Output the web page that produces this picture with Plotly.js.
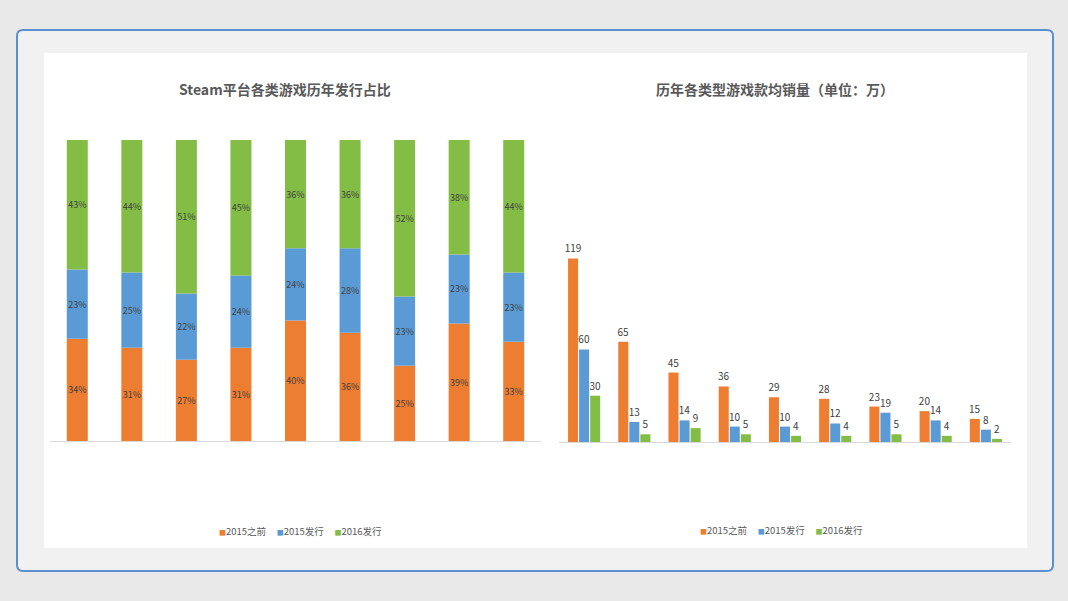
<!DOCTYPE html>
<html>
<head>
<meta charset="utf-8">
<script src="https://cdn.plot.ly/plotly-3.0.1.min.js"></script>
<style>
html,body{margin:0;padding:0;background:#e9e9e9;}
#chart{width:1068px;height:601px;}
</style>
</head>
<body>
<div id="chart"></div>
<script>
// ---- data ----
const categories = ['类型1','类型2','类型3','类型4','类型5','类型6','类型7','类型8','类型9'];
const seriesNames = ['2015之前','2015发行','2016发行'];

// left: share of releases (%)
const shareBefore2015 = [34, 31, 27, 31, 40, 36, 25, 39, 33];
const share2015 = [23, 25, 22, 24, 24, 28, 23, 23, 23];
const share2016 = [43, 44, 51, 45, 36, 36, 52, 38, 44];

// right: average sales per game (万)
const salesBefore2015 = [119, 65, 45, 36, 29, 28, 23, 20, 15];
const sales2015 = [60, 13, 14, 10, 10, 12, 19, 14, 8];
const sales2016 = [30, 5, 9, 5, 4, 4, 5, 4, 2];

const leftTitle = 'Steam平台各类游戏历年发行占比';
const rightTitle = '历年各类型游戏款均销量（单位：万）';

const colors = ['#ED7D31', '#5B9BD5', '#84BD46'];
const W = 1068, H = 601;
const px = x => x / W;
const py = y => 1 - y / H;
const font = '"Noto Sans CJK SC", "Microsoft YaHei", sans-serif';

const leftData = [shareBefore2015, share2015, share2016];
const rightData = [salesBefore2015, sales2015, sales2016];

const traces = [];
let base = categories.map(() => 0);
leftData.forEach((vals, i) => {
  traces.push({
    type: 'bar', x: categories, y: vals, base: base.slice(), name: seriesNames[i],
    xaxis: 'x', yaxis: 'y', showlegend: false,
    width: 0.385, offset: -0.1925,
    marker: {color: colors[i], line: {width: 0}},
    text: vals.map(v => v + '%'), textposition: 'inside', insidetextanchor: 'middle',
    textfont: {size: 9, color: '#404040', family: font},
    textangle: 0, constraintext: 'none',
    hoverinfo: 'skip'
  });
  base = base.map((b, k) => b + vals[k]);
});
const rightOffsets = [-0.32, -0.1, 0.12];
rightData.forEach((vals, i) => {
  traces.push({
    type: 'bar', x: categories, y: vals, name: seriesNames[i],
    xaxis: 'x2', yaxis: 'y2', showlegend: false,
    width: 0.2, offset: rightOffsets[i],
    marker: {color: colors[i], line: {width: 0}},
    text: vals.map(String), textposition: 'outside',
    textfont: {size: 10, color: '#404040', family: font},
    textangle: 0, constraintext: 'none',
    cliponaxis: false,
    hoverinfo: 'skip'
  });
});

function roundRect(x0, y0, x1, y1, r) {
  const X0 = px(x0), X1 = px(x1), Y0 = py(y0), Y1 = py(y1);
  const rx = r / W, ry = r / H;
  return `M ${X0 + rx} ${Y0} L ${X1 - rx} ${Y0} Q ${X1} ${Y0} ${X1} ${Y0 - ry} ` +
         `L ${X1} ${Y1 + ry} Q ${X1} ${Y1} ${X1 - rx} ${Y1} L ${X0 + rx} ${Y1} ` +
         `Q ${X0} ${Y1} ${X0} ${Y1 + ry} L ${X0} ${Y0 - ry} Q ${X0} ${Y0} ${X0 + rx} ${Y0} Z`;
}

function legendText() {
  return seriesNames.map((n, i) =>
    `<span style="color:${colors[i]};font-size:7px">■</span>${n}`).join('&nbsp;&nbsp;&nbsp;&nbsp;&nbsp;');
}

const layout = {
  width: W, height: H,
  margin: {l: 0, r: 0, t: 0, b: 0},
  paper_bgcolor: '#e9e9e9',
  plot_bgcolor: 'rgba(0,0,0,0)',
  showlegend: false,
  barmode: 'overlay',
  font: {family: font, color: '#595959'},
  shapes: [
    {type: 'path', xref: 'paper', yref: 'paper', path: roundRect(17, 30, 1053, 571, 6),
     fillcolor: '#f1f1f1', line: {color: '#5b8fd0', width: 2}, layer: 'below'},
    {type: 'rect', xref: 'paper', yref: 'paper', x0: px(44), x1: px(1027), y0: py(548), y1: py(53),
     fillcolor: '#ffffff', line: {width: 0}, layer: 'below'}
  ],
  xaxis: {domain: [px(50), px(541)], showticklabels: false, ticks: '', showgrid: false,
          zeroline: false, showline: true, linecolor: '#d9d9d9', linewidth: 1, fixedrange: true},
  yaxis: {domain: [py(441), py(140)], range: [0, 100], visible: false, fixedrange: true},
  xaxis2: {domain: [px(559), px(1011)], showticklabels: false, ticks: '', showgrid: false,
           zeroline: false, showline: true, linecolor: '#d9d9d9', linewidth: 1, anchor: 'y2', fixedrange: true},
  yaxis2: {domain: [py(442), py(226)], range: [0, 140], visible: false, anchor: 'x2', fixedrange: true},
  annotations: [
    {text: '<b>' + leftTitle + '</b>', xref: 'paper', yref: 'paper', x: px(285), y: py(89),
     showarrow: false, xanchor: 'center', yanchor: 'middle', font: {size: 14, color: '#595959', family: font}},
    {text: '<b>' + rightTitle + '</b>', xref: 'paper', yref: 'paper', x: px(775), y: py(89),
     showarrow: false, xanchor: 'center', yanchor: 'middle', font: {size: 14, color: '#595959', family: font}},
    {text: legendText(), xref: 'paper', yref: 'paper', x: px(300), y: py(531),
     showarrow: false, xanchor: 'center', yanchor: 'middle', font: {size: 9.5, color: '#595959', family: font}},
    {text: legendText(), xref: 'paper', yref: 'paper', x: px(781), y: py(530),
     showarrow: false, xanchor: 'center', yanchor: 'middle', font: {size: 9.5, color: '#595959', family: font}}
  ]
};

Plotly.newPlot('chart', traces, layout, {displayModeBar: false, staticPlot: true});
</script>
</body>
</html>
